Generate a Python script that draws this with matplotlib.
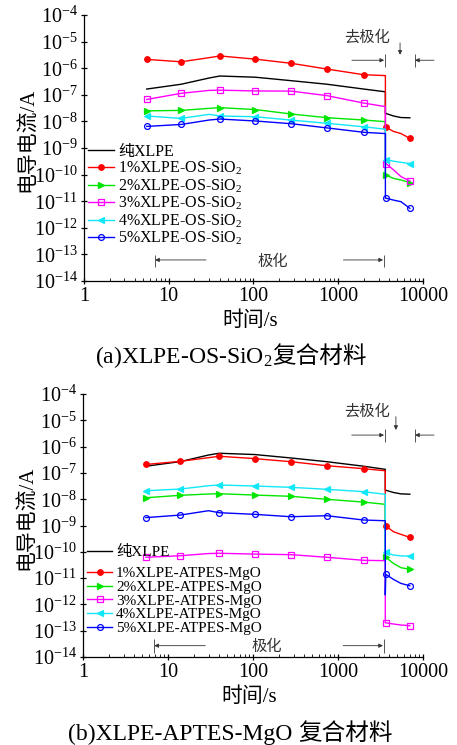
import matplotlib
matplotlib.use('Agg')
import matplotlib.pyplot as plt

plt.rcParams['font.family'] = ['Liberation Serif', 'Noto Sans CJK SC']
plt.rcParams['mathtext.fontset'] = 'custom'
plt.rcParams['mathtext.rm'] = 'Liberation Serif'
plt.rcParams['mathtext.it'] = 'Liberation Serif:italic'
plt.rcParams['mathtext.bf'] = 'Liberation Serif:bold'

# sampling times (s): polarization up to 3600 s, then depolarization
t = [5.5, 14, 30, 40, 105, 280, 740, 2000, 3600, 3600, 3650, 4500, 5500, 7000]
mark_at = [0, 1, 3, 4, 5, 6, 7, 10, 13]

labels_a = ['纯XLPE', '1%XLPE-OS-SiO$_2$', '2%XLPE-OS-SiO$_2$',
            '3%XLPE-OS-SiO$_2$', '4%XLPE-OS-SiO$_2$', '5%XLPE-OS-SiO$_2$']
labels_b = ['纯XLPE', '1%XLPE-ATPES-MgO', '2%XLPE-ATPES-MgO',
            '3%XLPE-ATPES-MgO', '4%XLPE-ATPES-MgO', '5%XLPE-ATPES-MgO']

# conduction current (A), OS-SiO2 composites
pure_a = [1.65e-7, 2.5e-7, 4.3e-7, 5.1e-7, 4.6e-7, 3.4e-7, 2.5e-7, 1.65e-7, 1.3e-7,
          2.0e-8, 2.0e-8, 1.6e-8, 1.4e-8, 1.37e-8]
os1 = [2.15e-6, 1.75e-6, 2.5e-6, 2.9e-6, 2.2e-6, 1.53e-6, 9.3e-7, 5.7e-7, 5.3e-7,
       6.0e-9, 6.0e-9, 4.2e-9, 3.5e-9, 2.3e-9]
os2 = [2.5e-8, 2.6e-8, 3.1e-8, 3.3e-8, 2.8e-8, 1.9e-8, 1.38e-8, 1.13e-8, 9.8e-9,
       9.5e-11, 9.5e-11, 7.2e-11, 6.3e-11, 5.0e-11]
os3 = [6.7e-8, 1.14e-7, 1.47e-7, 1.5e-7, 1.4e-7, 1.38e-7, 9.3e-8, 4.9e-8, 3.6e-8,
       2.6e-10, 2.6e-10, 1.5e-10, 8.4e-11, 5.8e-11]
os4 = [1.6e-8, 1.3e-8, 1.85e-8, 1.6e-8, 1.5e-8, 1.12e-8, 8.5e-9, 6.3e-9, 5.1e-9,
       3.7e-10, 3.7e-10, 3.2e-10, 2.9e-10, 2.6e-10]
os5 = [6.5e-9, 7.7e-9, 1.13e-8, 1.23e-8, 1.04e-8, 8.2e-9, 5.7e-9, 3.9e-9, 3.5e-9,
       1.3e-11, 1.3e-11, 1.1e-11, 9.6e-12, 5.4e-12]

# conduction current (A), APTES-MgO composites
pure_b = [1.8e-7, 2.7e-7, 4.8e-7, 5.6e-7, 5.0e-7, 3.7e-7, 2.67e-7, 1.8e-7, 1.37e-7,
          2.2e-8, 2.2e-8, 1.8e-8, 1.6e-8, 1.55e-8]
mg1 = [2.1e-7, 2.76e-7, 3.8e-7, 4.3e-7, 3.5e-7, 2.67e-7, 1.88e-7, 1.45e-7, 1.21e-7,
       9.6e-10, 9.6e-10, 5.8e-10, 4.6e-10, 3.55e-10]
mg2 = [1.14e-8, 1.41e-8, 1.58e-8, 1.62e-8, 1.44e-8, 1.29e-8, 9.9e-9, 7.8e-9, 6.4e-9,
       6.2e-11, 6.2e-11, 3.6e-11, 2.5e-11, 2.15e-11]
mg3 = [6.2e-11, 7.1e-11, 8.6e-11, 8.8e-11, 8.2e-11, 7.8e-11, 6.2e-11, 4.75e-11, 4.6e-11,
       2.0e-13, 2.0e-13, 1.8e-13, 1.65e-13, 1.55e-13]
mg4 = [2.1e-8, 2.44e-8, 3.26e-8, 3.47e-8, 3.18e-8, 2.83e-8, 2.38e-8, 1.94e-8, 1.53e-8,
       9.5e-11, 9.5e-11, 7.5e-11, 7.0e-11, 6.9e-11]
mg5 = [2.0e-9, 2.5e-9, 3.66e-9, 3.07e-9, 2.66e-9, 2.16e-9, 2.36e-9, 1.62e-9, 1.52e-9,
       2.3e-12, 1.39e-11, 8.9e-12, 6.3e-12, 5.1e-12]

colors = ['black', '#ff0000', '#00e600', '#ff00ff', '#10e8f8', '#0000ff']
markers = [None, 'o', '>', 's', '<', 'o']
hollow = [False, False, False, True, False, True]

x_ticks = [1, 10, 100, 1000, 10000]
y_exp = list(range(-14, -3))

fig = plt.figure(figsize=(4.57, 7.45), dpi=100)
ax_a = fig.add_axes([0.1838, 0.6228, 0.7418, 0.3570])
ax_b = fig.add_axes([0.1816, 0.1181, 0.7440, 0.3530])


def draw_panel(ax, series, labels):
    handles = []
    for y, lab, c, m, h in zip(series, labels, colors, markers, hollow):
        ln, = ax.plot(t, y, color=c, lw=1.0, marker=m,
                      markevery=mark_at if m else None,
                      ms=4.2 if h else 4.0,
                      mfc='none' if h else c, mec=c, mew=0.9, label=lab)
        handles.append(ln)
    ax.set_xscale('log')
    ax.set_yscale('log')
    ax.set_xlim(1, 10000)
    ax.set_ylim(1e-14, 1e-4)
    ax.set_xticks(x_ticks, [str(v) for v in x_ticks])
    ax.set_yticks([10.0 ** e for e in y_exp], ['$10^{%d}$' % e for e in y_exp])
    ax.minorticks_on()
    ax.spines['top'].set_visible(False)
    ax.spines['right'].set_visible(False)
    for s in ('left', 'bottom'):
        ax.spines[s].set_linewidth(0.9)
    ax.tick_params(which='major', direction='inout', length=5, width=0.9,
                   labelsize=14.5, pad=2)
    ax.tick_params(which='minor', direction='in', length=2.5, width=0.6)
    ax.tick_params(axis='y', which='minor', labelleft=False)
    ax.set_xlabel('时间/s', fontsize=15)
    ax.set_ylabel('电导电流/A', fontsize=15)
    ax.yaxis.set_label_coords(-0.135, 0.53)
    ax.xaxis.set_label_coords(0.49, -0.115)
    return handles


def arrow(ax, tail, tip):
    ax.annotate('', xy=tip, xytext=tail, annotation_clip=False,
                arrowprops=dict(arrowstyle='-|>', color='#333333', lw=0.6,
                                mutation_scale=6, shrinkA=0, shrinkB=0))


def stages(ax, pol_y, pol_bar, pol_txt, dep_y, dep_bar, dep_txt, down):
    # polarization span
    arrow(ax, (27.5, pol_y), (6.9, pol_y))
    arrow(ax, (1150, pol_y), (3380, pol_y))
    ax.vlines([6.9, 3450], *pol_bar, color='#555555', lw=0.7)
    ax.text(pol_txt[0], pol_txt[1], '极化', fontsize=11, ha='center', va='center',
            color='#333333')
    # depolarization span
    arrow(ax, (1450, dep_y), (3480, dep_y))
    arrow(ax, (13500, dep_y), (8050, dep_y))
    ax.vlines([3600, 7950], *dep_bar, color='#555555', lw=0.7, clip_on=False)
    ax.text(dep_txt[0], dep_txt[1], '去极化', fontsize=11, ha='center', va='center',
            color='#333333')
    arrow(ax, (down[0], down[1]), (down[0], down[2]))


h_a = draw_panel(ax_a, [pure_a, os1, os2, os3, os4, os5], labels_a)
ax_a.legend(handles=h_a, loc='upper left', bbox_to_anchor=(0.012, 0.515),
            frameon=False, fontsize=11.5, handlelength=1.65, handletextpad=0.25,
            labelspacing=0.0, borderpad=0, borderaxespad=0, numpoints=1)
stages(ax_a, 6.2e-14, (9.5e-14, 3.4e-14), (170, 5.2e-14),
       2.0e-6, (3.4e-6, 1.15e-6), (2190, 1.4e-5), (5360, 9e-6, 3.2e-6))

h_b = draw_panel(ax_b, [pure_b, mg1, mg2, mg3, mg4, mg5], labels_b)
leg0 = ax_b.legend(handles=h_b[:1], loc='upper left', bbox_to_anchor=(0.012, 0.425),
                   frameon=False, fontsize=11, handlelength=1.65,
                   handletextpad=0.25, borderpad=0, borderaxespad=0)
ax_b.add_artist(leg0)
ax_b.legend(handles=h_b[1:], loc='upper left', bbox_to_anchor=(0.012, 0.344),
            frameon=False, fontsize=11, handlelength=1.65, handletextpad=0.25,
            labelspacing=0.0, borderpad=0, borderaxespad=0, numpoints=1)
stages(ax_b, 2.7e-14, (4.8e-14, 1.4e-14), (146, 2.4e-14),
       2.75e-6, (4.7e-6, 1.55e-6), (2190, 2.1e-5), (4800, 1.38e-5, 4.3e-6))


def caption(x, y, latin, cjk):
    t1 = fig.text(x, y, latin, fontsize=17, va='baseline')
    bb = t1.get_window_extent(fig.canvas.get_renderer())
    fig.text(bb.x1 / fig.bbox.width, y, cjk, fontsize=17, va='baseline',
             family='Noto Sans CJK SC')


caption(0.2079, 0.5123, '(a)XLPE-OS-SiO$_2$', '复合材料')
caption(0.1488, 0.0067, '(b)XLPE-APTES-MgO ', '复合材料')

fig.savefig('out.png', dpi=100)
